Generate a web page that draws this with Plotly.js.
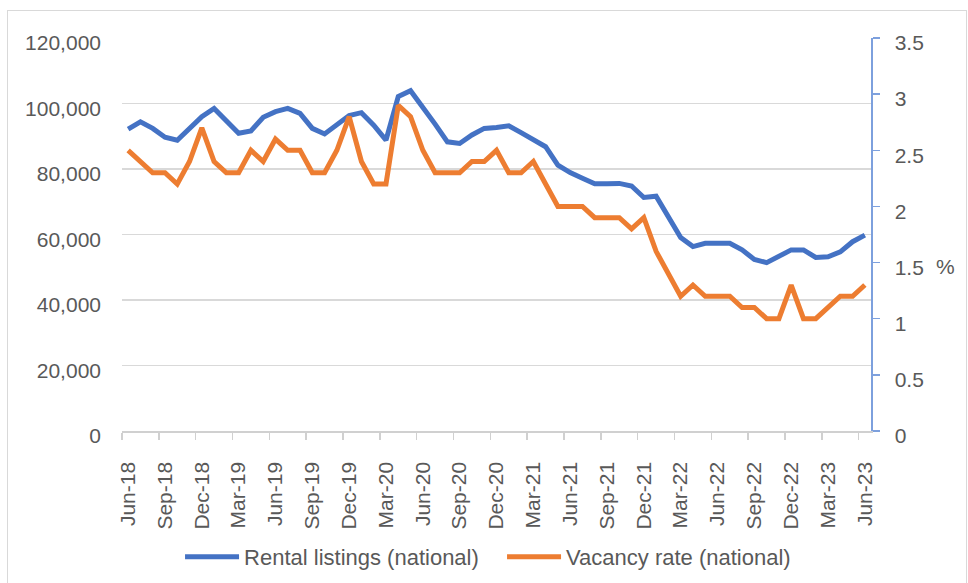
<!DOCTYPE html>
<html>
<head>
<meta charset="utf-8">
<script src="https://cdn.plot.ly/plotly-3.0.1.min.js"></script>
<style>
  html, body { margin: 0; padding: 0; background: #ffffff; }
  #wrap { position: relative; width: 968px; height: 583px; overflow: hidden; }
  #chart { position: absolute; left: 0; top: 0; width: 968px; height: 640px; }
  #frame { position: absolute; left: 7px; top: 10px; width: 960px; height: 600px;
           border: 1.5px solid #D9D9D9; box-sizing: border-box; pointer-events: none; }
</style>
</head>
<body>
<div id="wrap">
  <div id="chart"></div>
  <div id="frame"></div>
</div>
<script>
// Monthly, Jun-18 .. Jun-23
const monthNames = ["Jun","Jul","Aug","Sep","Oct","Nov","Dec","Jan","Feb","Mar","Apr","May"];
const startYear = 18;

const rentalListings = [
  92200, 94400, 92400, 89700, 88800, 92200, 96000, 98500, 94700, 90900,
  91600, 95800, 97500, 98500, 97000, 92400, 90700, 93400, 96300, 97200,
  93400, 88800, 102100, 103900, 99000, 93700, 88300, 87800, 90400, 92400,
  92700, 93200, 91100, 88800, 86800, 81200, 78900, 77200, 75500, 75500,
  75600, 74800, 71300, 71700, 65400, 59100, 56300, 57300, 57300, 57300,
  55300, 52400, 51400, 53200, 55300, 55300, 53000, 53200, 54700, 57800,
  59800
];

const vacancyRate = [
  2.5, 2.4, 2.3, 2.3, 2.2, 2.4, 2.7, 2.4, 2.3, 2.3,
  2.5, 2.4, 2.6, 2.5, 2.5, 2.3, 2.3, 2.5, 2.8, 2.4,
  2.2, 2.2, 2.9, 2.8, 2.5, 2.3, 2.3, 2.3, 2.4, 2.4,
  2.5, 2.3, 2.3, 2.4, 2.2, 2.0, 2.0, 2.0, 1.9, 1.9,
  1.9, 1.8, 1.9, 1.6, 1.4, 1.2, 1.3, 1.2, 1.2, 1.2,
  1.1, 1.1, 1.0, 1.0, 1.3, 1.0, 1.0, 1.1, 1.2, 1.2,
  1.3
];

const leftTickVals = [0, 20000, 40000, 60000, 80000, 100000, 120000];
const leftTickText = ["0", "20,000", "40,000", "60,000", "80,000", "100,000", "120,000"];
const rightTickVals = [0, 0.5, 1, 1.5, 2, 2.5, 3, 3.5];
const rightTickText = ["0", "0.5", "1", "1.5", "2", "2.5", "3", "3.5"];

// month labels
const monthLabels = rentalListings.map((_, i) => {
  const m = i % 12;
  const y = startYear + Math.floor((i + 5) / 12);
  return monthNames[m] + "-" + String(y).padStart(2, "0");
});
const xIdx = rentalListings.map((_, i) => i);
const xTickVals = xIdx.filter(i => i % 3 === 0);
const xTickText = xTickVals.map(i => monthLabels[i]);

const FONT = "Liberation Sans, Arial, sans-serif";
const TXT = "#595959";
const FS = 21;

const H = 640;            // plot div height (taller than the visible 583 px)
const TOP = 38, BOTTOM = 431;
const plotH = BOTTOM - TOP;

const traces = [
  {
    x: xIdx, y: rentalListings, type: "scatter", mode: "lines",
    name: "Rental listings (national)",
    line: { color: "#4472C4", width: 5 },
    yaxis: "y"
  },
  {
    x: xIdx, y: vacancyRate, type: "scatter", mode: "lines",
    name: "Vacancy rate (national)",
    line: { color: "#ED7D31", width: 5 },
    yaxis: "y2"
  }
];

const layout = {
  width: 968, height: H,
  margin: { l: 122, r: 97, t: TOP, b: H - BOTTOM },
  paper_bgcolor: "rgba(0,0,0,0)",
  plot_bgcolor: "rgba(0,0,0,0)",
  font: { family: FONT, size: FS, color: TXT },
  showlegend: true,
  legend: {
    orientation: "h", x: 0.5074, xanchor: "center",
    y: (BOTTOM - 557) / plotH, yanchor: "middle",
    font: { family: FONT, size: 22, color: TXT },
    itemwidth: 54, traceorder: "normal",
    entrywidth: 253, entrywidthmode: "pixels"
  },
  xaxis: {
    range: [-0.5, 60.5],
    tickmode: "array", tickvals: xTickVals, ticktext: xTickText,
    tickangle: -90, ticks: "", showgrid: false, zeroline: false,
    showline: true, linecolor: "#D0D0D0", linewidth: 1.5,
    tickfont: { family: FONT, size: FS, color: TXT },
    ticklabelstandoff: 21,
    minor: { tickmode: "linear", tick0: -0.5, dtick: 3, ticks: "outside", ticklen: 7,
             tickcolor: "#D0D0D0", tickwidth: 1.5, showgrid: false }
  },
  yaxis: {
    range: [0, 120000],
    tickmode: "array", tickvals: leftTickVals, ticktext: leftTickText,
    showgrid: true, gridcolor: "#D9D9D9", gridwidth: 1.5,
    zeroline: false, showline: false, ticks: "",
    tickfont: { family: FONT, size: FS, color: TXT },
    ticklabelstandoff: 20, ticklabelshift: 5
  },
  yaxis2: {
    range: [0, 3.5], overlaying: "y", side: "right",
    tickmode: "array", tickvals: rightTickVals, ticktext: rightTickText,
    showgrid: false, zeroline: false,
    showline: true, linecolor: "#7DA0DD", linewidth: 1.5,
    ticks: "outside", ticklen: 7, tickcolor: "#7DA0DD", tickwidth: 1.5,
    tickfont: { family: FONT, size: FS, color: TXT },
    ticklabelstandoff: 11, ticklabelshift: 5
  },
  annotations: [
    { text: "%", xref: "paper", yref: "paper", x: 1.099, y: (BOTTOM - 266) / plotH,
      xanchor: "center", yanchor: "middle", showarrow: false,
      font: { family: FONT, size: FS, color: TXT } }
  ]
};

Plotly.newPlot("chart", traces, layout, { displayModeBar: false, staticPlot: true });
</script>
</body>
</html>
